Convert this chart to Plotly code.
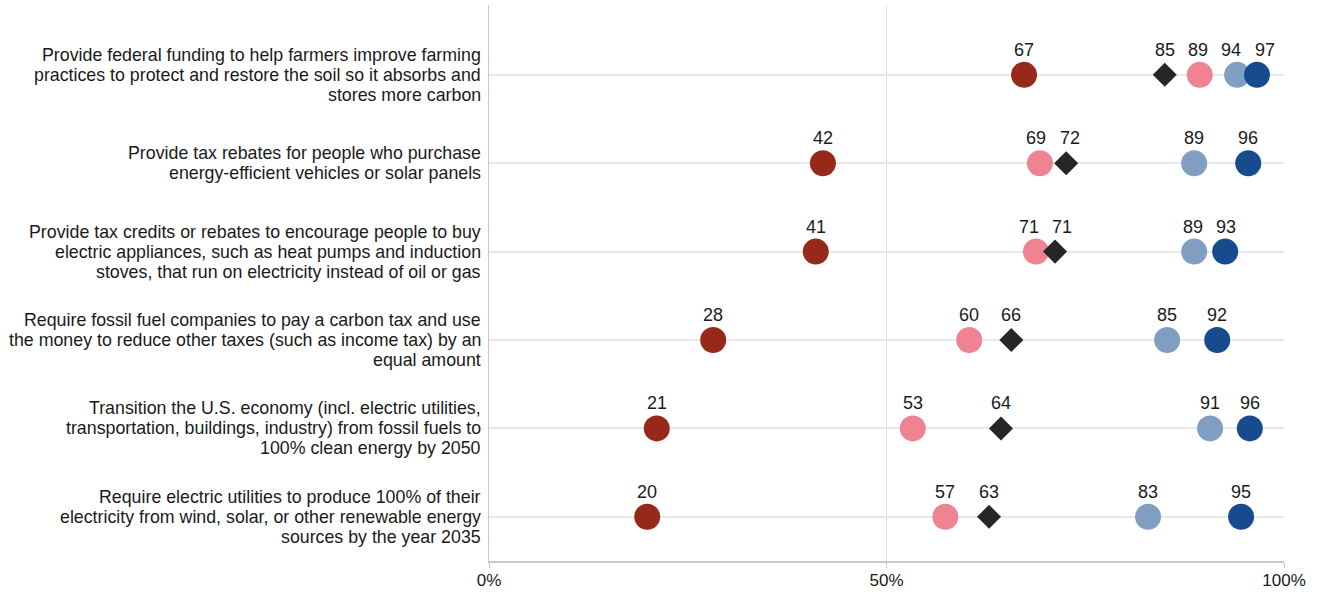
import plotly.graph_objects as go

categories = [
    "Provide federal funding to help farmers improve farming<br>practices to protect and restore the soil so it absorbs and<br>stores more carbon",
    "Provide tax rebates for people who purchase<br>energy-efficient vehicles or solar panels",
    "Provide tax credits or rebates to encourage people to buy<br>electric appliances, such as heat pumps and induction<br>stoves, that run on electricity instead of oil or gas",
    "Require fossil fuel companies to pay a carbon tax and use<br>the money to reduce other taxes (such as income tax) by an<br>equal amount",
    "Transition the U.S. economy (incl. electric utilities,<br>transportation, buildings, industry) from fossil fuels to<br>100% clean energy by 2050",
    "Require electric utilities to produce 100% of their<br>electricity from wind, solar, or other renewable energy<br>sources by the year 2035",
]

# dot positions (percent)
cons_rep = [67.3, 42.0, 41.1, 28.2, 21.1, 19.9]
lib_mod_rep = [89.4, 69.3, 68.8, 60.4, 53.3, 57.4]
overall = [85.0, 72.6, 71.2, 65.7, 64.4, 62.9]
mod_cons_dem = [94.1, 88.7, 88.7, 85.3, 90.7, 82.9]
lib_dem = [96.6, 95.5, 92.6, 91.6, 95.7, 94.6]

# printed value labels
cons_rep_lbl = ["67", "42", "41", "28", "21", "20"]
lib_mod_rep_lbl = ["89", "69", "71", "60", "53", "57"]
overall_lbl = ["85", "72", "71", "66", "64", "63"]
mod_cons_dem_lbl = ["94", "89", "89", "85", "91", "83"]
lib_dem_lbl = ["97", "96", "93", "92", "96", "95"]

x_ticks = [0, 50, 100]
x_ticklabels = ["0%", "50%", "100%"]

series = [
    ("Conservative Republicans", cons_rep, cons_rep_lbl, "#97291B", "circle", 26),
    ("Liberal/moderate Republicans", lib_mod_rep, lib_mod_rep_lbl, "#F08392", "circle", 26),
    ("Overall", overall, overall_lbl, "#262626", "diamond", 18.5),
    ("Moderate/conservative Democrats", mod_cons_dem, mod_cons_dem_lbl, "#7F9EC2", "circle", 26),
    ("Liberal Democrats", lib_dem, lib_dem_lbl, "#164C8D", "circle", 26),
]

FONT = "Liberation Sans, Arial, sans-serif"
ypos = list(range(len(categories)))

fig = go.Figure()
for name, vals, lbls, color, symbol, size in series:
    fig.add_trace(go.Scatter(
        x=vals, y=ypos, mode="markers", name=name,
        marker=dict(color=color, size=size, symbol=symbol, line=dict(width=0)),
        cliponaxis=False, hoverinfo="skip",
    ))

annotations = []

# value labels, pushed apart within a row when they would overlap
MIN_GAP = 4.2
for r in ypos:
    items = sorted(([s[1][r], s[1][r], s[2][r]] for s in series), key=lambda t: t[0])
    for _ in range(50):
        moved = False
        for a, b in zip(items, items[1:]):
            gap = b[1] - a[1]
            if gap < MIN_GAP - 1e-9:
                push = (MIN_GAP - gap) / 2
                a[1] -= push
                b[1] += push
                moved = True
        if not moved:
            break
    for _, lx, txt in items:
        annotations.append(dict(
            x=lx, y=r, xref="x", yref="y", text=txt, showarrow=False,
            xanchor="center", yanchor="middle", yshift=25,
            font=dict(size=18, color="#1a1a1a", family=FONT),
        ))

# category labels, one annotation per line for tight line spacing
LINE = 20
for i, cat in enumerate(categories):
    lines = cat.split("<br>")
    n = len(lines)
    for k, line in enumerate(lines):
        annotations.append(dict(
            x=0, xref="paper", y=i, yref="y",
            text=line, showarrow=False, xanchor="right", yanchor="middle",
            xshift=-6, yshift=((n - 1) / 2 - k) * LINE,
            font=dict(size=17.8, color="#1a1a1a", family=FONT),
        ))

fig.update_layout(
    width=1317, height=592,
    margin=dict(l=489, r=33, t=5, b=31, autoexpand=False),
    paper_bgcolor="white", plot_bgcolor="white",
    showlegend=False,
    annotations=annotations,
    font=dict(family=FONT, size=17, color="#1a1a1a"),
    xaxis=dict(
        range=[0, 100], tickvals=x_ticks, ticktext=x_ticklabels,
        showgrid=True, gridcolor="#DDDDDD", gridwidth=1,
        showline=True, linecolor="#C8C8C8", linewidth=2,
        ticks="outside", ticklen=5, tickcolor="#C8C8C8",
        zeroline=False, tickfont=dict(size=17), automargin=False,
        ticklabelstandoff=-2,
    ),
    yaxis=dict(
        range=[5.5, -0.79], tickvals=ypos, showticklabels=False,
        showgrid=True, gridcolor="#E8E8E8", gridwidth=2,
        showline=True, linecolor="#C8C8C8", linewidth=1,
        ticks="", zeroline=False, automargin=False,
    ),
)

fig.write_html("out.html", config={"displayModeBar": False},
               post_script="document.body.style.margin='0';")
